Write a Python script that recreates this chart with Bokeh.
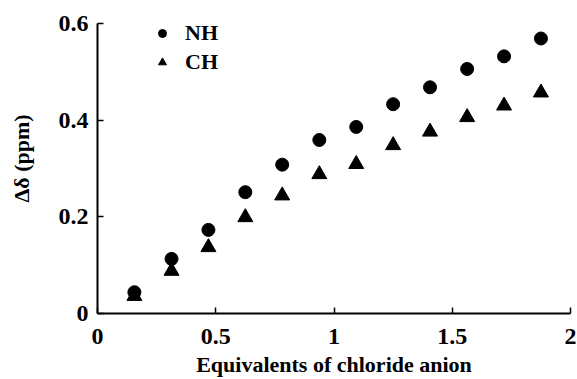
from bokeh.plotting import figure
from bokeh.models import Range1d, FixedTicker, Legend, LegendItem
from bokeh.embed import file_html
from bokeh.resources import INLINE

equivalents = [0.156, 0.313, 0.469, 0.625, 0.781, 0.938, 1.094, 1.25, 1.406, 1.563, 1.719, 1.875]
nh_shift = [0.044, 0.113, 0.173, 0.251, 0.308, 0.359, 0.386, 0.433, 0.468, 0.506, 0.532, 0.569]
ch_shift = [0.036, 0.088, 0.137, 0.199, 0.244, 0.288, 0.309, 0.348, 0.376, 0.406, 0.430, 0.457]
x_ticks = [0, 0.5, 1, 1.5, 2]
x_tick_labels = ["0", "0.5", "1", "1.5", "2"]
y_ticks = [0, 0.2, 0.4, 0.6]
y_tick_labels = ["0", "0.2", "0.4", "0.6"]

FONT = "Liberation Serif"

p = figure(width=577, height=379, output_backend="svg", toolbar_location=None,
           x_range=Range1d(0, 2), y_range=Range1d(0, 0.6414),
           min_border_left=97, min_border_right=7, min_border_top=3, min_border_bottom=66)
p.outline_line_color = None
p.grid.visible = False
p.background_fill_color = "white"
p.border_fill_color = "white"

r_nh = p.scatter(equivalents, nh_shift, marker="circle", size=13, color="black")
r_ch = p.scatter(equivalents, ch_shift, marker="triangle", size=15, color="black")

for ax in (p.xaxis[0], p.yaxis[0]):
    ax.axis_line_width = 2
    ax.axis_line_color = "black"
    ax.major_tick_in = 6
    ax.major_tick_out = 0
    ax.major_tick_line_width = 1.5
    ax.minor_tick_line_color = None
    ax.major_label_text_font = FONT
    ax.major_label_text_font_style = "bold"
    ax.major_label_text_font_size = "24px"
    ax.major_label_text_color = "black"
    ax.axis_label_text_font = FONT
    ax.axis_label_text_font_style = "bold"
    ax.axis_label_text_font_size = "22px"
    ax.axis_label_text_color = "black"

p.yaxis.bounds = (0, 0.6)
p.xaxis.ticker = FixedTicker(ticks=x_ticks)
p.xaxis.major_label_overrides = {t: l for t, l in zip(x_ticks, x_tick_labels)}
p.yaxis.ticker = FixedTicker(ticks=y_ticks)
p.yaxis.major_label_overrides = {t: l for t, l in zip(y_ticks, y_tick_labels)}
p.xaxis.axis_label = "Equivalents of chloride anion"
p.yaxis.axis_label = "Δδ (ppm)"
p.xaxis.major_label_standoff = 15
p.yaxis.major_label_standoff = 9
p.xaxis.axis_label_standoff = 5
p.yaxis.axis_label_standoff = 22

legend = Legend(items=[LegendItem(label="NH", renderers=[r_nh]),
                       LegendItem(label="CH", renderers=[r_ch])],
                location=(55, 238), padding=0, margin=0, spacing=3,
                glyph_width=20, glyph_height=22, label_height=22, label_standoff=13,
                border_line_color=None, background_fill_alpha=0,
                label_text_font=FONT, label_text_font_style="bold",
                label_text_font_size="22px", label_text_color="black")
p.add_layout(legend)

open("out.html", "w").write(file_html(p, INLINE))
